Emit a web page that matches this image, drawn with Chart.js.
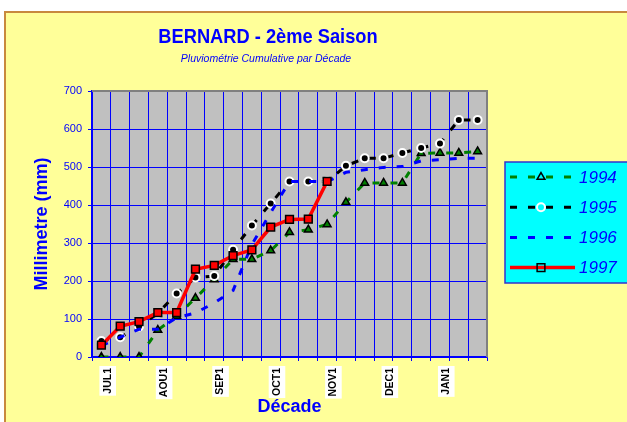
<!DOCTYPE html>
<html>
<head>
<meta charset="utf-8">
<script src="https://cdn.jsdelivr.net/npm/chart.js@4/dist/chart.umd.min.js"></script>
<style>
  html, body { margin: 0; padding: 0; background: #fff; }
  canvas { display: block; }
</style>
</head>
<body>
<canvas id="pluvio" width="627" height="422"></canvas>
<script>
// decades, Jul -> Jan
const decades = [
  'JUL1', 'JUL2', 'JUL3', 'AOU1', 'AOU2', 'AOU3', 'SEP1', 'SEP2', 'SEP3',
  'OCT1', 'OCT2', 'OCT3', 'NOV1', 'NOV2', 'NOV3', 'DEC1', 'DEC2', 'DEC3',
  'JAN1', 'JAN2', 'JAN3'
];

// cumulative rainfall (mm)
const rain1994 = [0, 0, 0, 71, 108, 155, 204, 257, 257, 280, 328, 335, 349, 407, 458, 458, 458, 536, 537, 537, 541];
const rain1995 = [42, 52, 80, 115, 167, 209, 213, 282, 346, 404, 462, 462, 462, 503, 523, 523, 537, 550, 562, 624, 624];
const rain1996 = [30, 52, 73, 73, 103, 116, 142, 175, 296, 380, 462, 462, 461, 486, 493, 499, 501, 516, 519, 523, 523];
const rain1997 = [31, 81, 93, 117, 117, 231, 241, 267, 282, 342, 362, 363, 462];

const seasons = ['1994', '1995', '1996', '1997'];
const yMax = 700;
const yStep = 100;

const chartTitle = 'BERNARD - 2ème Saison';
const chartSubtitle = 'Pluviométrie Cumulative par Décade';
const yTitle = 'Millimetre (mm)';
const xTitle = 'Décade';

const BLUE = '#0000FF';
const FONT = '"Liberation Sans", Arial, sans-serif';

function showLabel(i) {
  return decades[i].endsWith('1');
}

const background = {
  id: 'background',
  beforeDraw(chart) {
    const ctx = chart.ctx;
    const a = chart.chartArea;
    ctx.save();
    ctx.fillStyle = '#ffffff';
    ctx.fillRect(0, 0, chart.width, chart.height);
    ctx.fillStyle = '#FFFF99';
    ctx.fillRect(5, 12, chart.width, chart.height);
    ctx.strokeStyle = '#C8893E';
    ctx.lineWidth = 2;
    ctx.strokeRect(5, 12, chart.width + 10, chart.height + 10);
    ctx.fillStyle = '#C0C0C0';
    ctx.fillRect(a.left, a.top, a.right - a.left, a.bottom - a.top);
    ctx.restore();
  },
  beforeDatasetsDraw(chart) {
    const ctx = chart.ctx;
    const a = chart.chartArea;
    ctx.save();
    ctx.strokeStyle = '#808080';
    ctx.lineWidth = 2;
    ctx.beginPath();
    ctx.moveTo(a.left, a.top);
    ctx.lineTo(a.right, a.top);
    ctx.lineTo(a.right, a.bottom);
    ctx.stroke();
    ctx.restore();
  }
};

const titles = {
  id: 'titles',
  afterDraw(chart) {
    const ctx = chart.ctx;
    ctx.save();
    ctx.fillStyle = BLUE;
    ctx.textAlign = 'center';
    ctx.textBaseline = 'middle';
    ctx.font = 'bold 21px ' + FONT;
    ctx.translate(268, 37);
    ctx.scale(0.87, 1);
    ctx.fillText(chartTitle, 0, 0);
    ctx.restore();

    ctx.save();
    ctx.fillStyle = BLUE;
    ctx.textAlign = 'center';
    ctx.textBaseline = 'middle';
    ctx.font = 'italic 10.5px ' + FONT;
    ctx.fillText(chartSubtitle, 266, 59);
    ctx.restore();
  }
};

// legend box on the right, like the spreadsheet one
const sideLegend = {
  id: 'sideLegend',
  afterDraw(chart) {
    const ctx = chart.ctx;
    const box = { x: 505, y: 162, w: 140, h: 121 };
    ctx.save();
    ctx.fillStyle = '#00FFFF';
    ctx.fillRect(box.x, box.y, box.w, box.h);
    ctx.strokeStyle = '#3333CC';
    ctx.lineWidth = 1.5;
    ctx.strokeRect(box.x, box.y, box.w, box.h);

    chart.data.datasets.forEach((ds, i) => {
      const y = 177 + i * 30.2;
      ctx.save();
      ctx.strokeStyle = ds.borderColor;
      ctx.lineWidth = ds.borderWidth;
      ctx.setLineDash(ds.borderDash || []);
      ctx.beginPath();
      ctx.moveTo(510, y);
      ctx.lineTo(575, y);
      ctx.stroke();
      ctx.restore();

      if (ds.pointRadius > 0) {
        ctx.save();
        ctx.fillStyle = ds.legendFill;
        ctx.strokeStyle = ds.pointBorderColor;
        ctx.lineWidth = ds.pointBorderWidth;
        Chart.helpers.drawPoint(ctx, {
          pointStyle: ds.pointStyle,
          radius: ds.pointRadius,
          rotation: 0,
          borderWidth: ds.pointBorderWidth
        }, 541, y);
        ctx.restore();
      }

      ctx.fillStyle = BLUE;
      ctx.font = 'italic 17px ' + FONT;
      ctx.textAlign = 'left';
      ctx.textBaseline = 'middle';
      ctx.fillText(ds.label, 579, y + 1);
    });
    ctx.restore();
  }
};

new Chart(document.getElementById('pluvio'), {
  type: 'line',
  data: {
    labels: decades,
    datasets: [
      {
        label: seasons[0],
        data: rain1994,
        borderColor: '#008000',
        borderWidth: 3,
        borderDash: [7, 11],
        pointStyle: 'triangle',
        pointRadius: 4.5,
        pointBackgroundColor: '#008000',
        pointBorderColor: '#000000',
        pointBorderWidth: 1.5,
        legendFill: 'rgba(0,0,0,0)',
        order: 3
      },
      {
        label: seasons[1],
        data: rain1995,
        borderColor: '#000000',
        borderWidth: 3,
        borderDash: [7, 11],
        pointStyle: 'circle',
        pointRadius: 4,
        pointBackgroundColor: '#000000',
        pointBorderColor: '#ffffff',
        pointBorderWidth: 2,
        legendFill: 'rgba(0,0,0,0)',
        order: 2
      },
      {
        label: seasons[2],
        data: rain1996,
        borderColor: '#0000FF',
        borderWidth: 3,
        borderDash: [7, 11],
        pointRadius: 0,
        order: 1
      },
      {
        label: seasons[3],
        data: rain1997,
        borderColor: '#FF0000',
        borderWidth: 3.5,
        pointStyle: 'rect',
        pointRadius: 5.5,
        pointBackgroundColor: '#FF0000',
        pointBorderColor: '#000000',
        pointBorderWidth: 1.5,
        legendFill: 'rgba(0,0,0,0)',
        order: 0
      }
    ]
  },
  options: {
    responsive: false,
    animation: false,
    layout: {
      padding: { left: 20, right: 140, top: 91, bottom: 0 }
    },
    plugins: {
      legend: { display: false },
      tooltip: { enabled: false }
    },
    scales: {
      x: {
        offset: true,
        grid: {
          offset: true,
          color: BLUE,
          lineWidth: 1,
          tickLength: 4
        },
        border: { color: BLUE, width: 1.5 },
        ticks: {
          autoSkip: false,
          minRotation: 90,
          maxRotation: 90,
          padding: 7,
          color: '#000000',
          font: { family: FONT, size: 10.5, weight: 'bold' },
          showLabelBackdrop: true,
          backdropPadding: 2,
          backdropColor: (c) => showLabel(c.index) ? '#ffffff' : 'rgba(0,0,0,0)',
          callback: function(value, index) {
            return showLabel(index) ? decades[index] : '';
          }
        },
        title: {
          display: true,
          text: xTitle,
          color: BLUE,
          font: { family: FONT, size: 18, weight: 'bold' },
          padding: { top: 0, bottom: 4 }
        },
        afterFit: (scale) => { scale.height = 65; }
      },
      y: {
        min: 0,
        max: yMax,
        grid: {
          color: BLUE,
          lineWidth: 1,
          tickLength: 4
        },
        border: { color: BLUE, width: 1.5 },
        ticks: {
          stepSize: yStep,
          padding: 6,
          color: BLUE,
          font: { family: FONT, size: 11 }
        },
        title: {
          display: true,
          text: yTitle,
          color: BLUE,
          font: { family: FONT, size: 18, weight: 'bold' },
          padding: { top: 11, bottom: 0 }
        },
        afterFit: (scale) => { scale.width = 72; }
      }
    }
  },
  plugins: [background, titles, sideLegend]
});
</script>
</body>
</html>
